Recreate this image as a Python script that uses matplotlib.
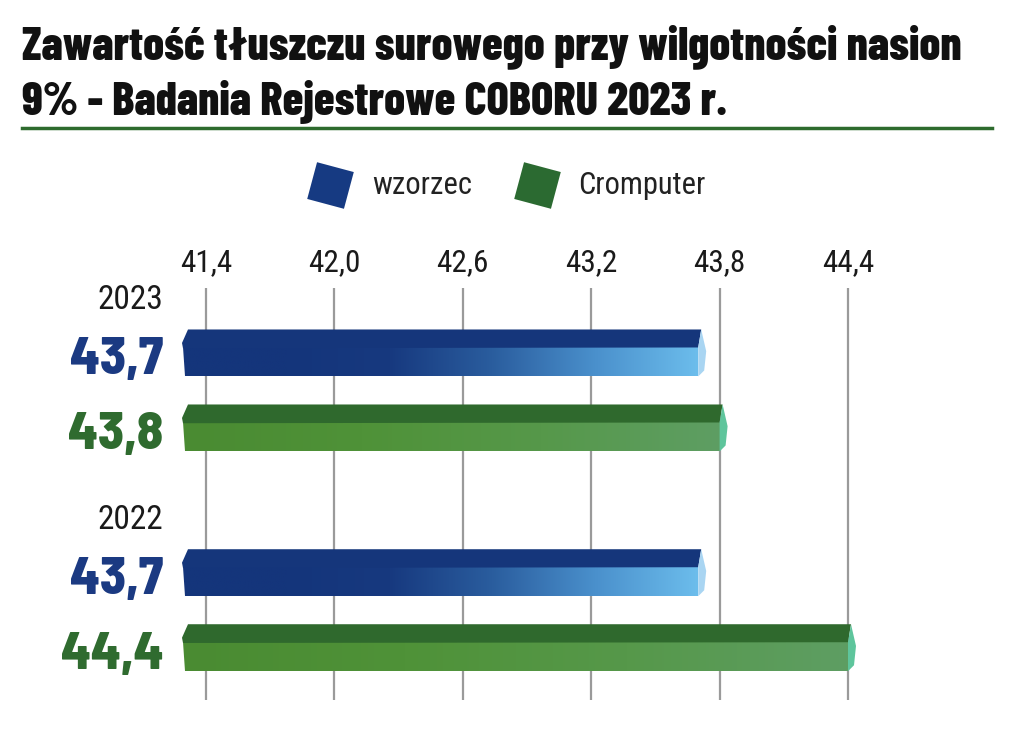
import numpy as np
import matplotlib.pyplot as plt
from matplotlib.patches import Polygon
from matplotlib.colors import LinearSegmentedColormap

# ================= DATA =================
title_lines = ["Zawartość tłuszczu surowego przy wilgotności nasion",
               "9% - Badania Rejestrowe COBORU 2023 r."]
years = ["2023", "2022"]
series = ["wzorzec", "Cromputer"]
wzorzec = [43.7, 43.7]
cromputer = [43.8, 44.4]
ticks = [41.4, 42.0, 42.6, 43.2, 43.8, 44.4]
# ========================================

HEAVY = ["Barlow Condensed", "DejaVu Sans"]
VALUE = ["Barlow Semi Condensed", "DejaVu Sans"]
LIGHT = ["Roboto Condensed", "DejaVu Sans"]
plt.rcParams["font.family"] = LIGHT

BLUE_TXT = "#1b3a82"
GREEN_TXT = "#2f6b2f"
styles = {
    "wzorzec": dict(top="#15367b", cap="#a9d5f2",
                    grad=["#14357b", "#14357b", "#17397f", "#2a5d9e", "#4a90cc", "#6cbdec"],
                    txt=BLUE_TXT, legend="#163a82"),
    "Cromputer": dict(top="#2f692d", cap="#5ec59c",
                      grad=["#4a8b32", "#4f9238", "#56984a", "#5e9e63"],
                      txt=GREEN_TXT, legend="#2b6a31"),
}

fig = plt.figure(figsize=(10.24, 7.36), dpi=100)

# title
for i, line in enumerate(title_lines):
    fig.text(22 / 1024, 1 - (47 + 55 * i) / 736, line, family=HEAVY, fontsize=33.5,
             fontweight=800, va="center", ha="left", color="#111111")
fig.add_artist(plt.Line2D([22 / 1024, 992 / 1024], [1 - 128 / 736] * 2,
                          color="#2e6b2e", lw=2.5))

# legend
leg_ax = fig.add_axes([0, 1 - 220 / 736, 1, 70 / 736])
leg_ax.set_xlim(0, 1024)
leg_ax.set_ylim(220, 150)
leg_ax.axis("off")
for cx, tx, name in [(330, 372, "wzorzec"), (537, 578, "Cromputer")]:
    leg_ax.scatter([cx], [185], marker=(4, 0, 30), s=1500,
                   color=styles[name]["legend"], linewidths=0)
    leg_ax.text(tx, 185, name, fontsize=22, va="center", ha="left", color="#222222")

# main axes (top at px 288, bottom at px 700)
px_per_unit = (848 - 206) / 3.0
ax_top, ax_bot = 288, 700
ax = fig.add_axes([150 / 1024, (736 - ax_bot) / 736, 750 / 1024,
                   (ax_bot - ax_top) / 736])
x_lo = 41.4 - 56 / px_per_unit
x_hi = 44.4 + 52 / px_per_unit
y_hi = (ax_bot - ax_top) / 75.0
y_off = (280 - ax_top) / 75.0
ax.set_xlim(x_lo, x_hi)
ax.set_ylim(y_hi, 0)
for s in ax.spines.values():
    s.set_visible(False)
ax.set_yticks([])
ax.xaxis.tick_top()
ax.set_xticks(ticks)
ax.set_xticklabels([f"{t:.1f}".replace(".", ",") for t in ticks])
ax.tick_params(axis="x", length=0, labelsize=22.5, pad=8, colors="#1a1a1a")
for t in ticks:
    ax.axvline(t, color="#9a9a9a", lw=1.6, zorder=0)

bar_start = 41.4 - 23 / px_per_unit
h_total = 47 / 75.0
h_top = 18 / 75.0
u = 1 / px_per_unit


def draw_bar(yc, value, st):
    y_top = yc - h_total / 2
    y_front = y_top + h_top
    y_bot = yc + h_total / 2
    # front face with gradient
    front = Polygon([(bar_start, y_front), (value, y_front), (value, y_bot),
                     (bar_start + 2 * u, y_bot)],
                    closed=True, facecolor="none", edgecolor="none")
    ax.add_patch(front)
    cmap = LinearSegmentedColormap.from_list("g", st["grad"])
    grad = np.linspace(0, 1, 256).reshape(1, -1)
    im = ax.imshow(grad, cmap=cmap, aspect="auto",
                   extent=(bar_start, value, y_bot, y_front), zorder=2)
    im.set_clip_path(front)
    # top face
    ax.add_patch(Polygon([(bar_start, y_front + 0.01),
                          (bar_start - 1 * u, y_front - 0.06),
                          (bar_start + 5 * u, y_top),
                          (value + 3 * u, y_top),
                          (value, y_front)],
                         closed=True, facecolor=st["top"], edgecolor="none", zorder=3))
    # end cap
    ax.add_patch(Polygon([(value, y_front), (value + 3 * u, y_top),
                          (value + 8 * u, y_front + 0.05),
                          (value + 6 * u, y_bot - 0.08),
                          (value, y_bot)],
                         closed=True, facecolor=st["cap"], edgecolor="none", zorder=3))
    label = f"{value:.1f}".replace(".", ",")
    ax.text(41.4 - 43 * u, y_front + (y_bot - y_front) / 2 - 0.02, label,
            family=VALUE, fontsize=38, fontweight=800, color=st["txt"],
            ha="right", va="center")


for g, year in enumerate(years):
    base = y_off + 0.973 + g * 2.93
    ax.text(41.4 - 43 * u, base - 0.70, year, fontsize=24,
            ha="right", va="center", color="#1a1a1a")
    draw_bar(base, wzorzec[g], styles["wzorzec"])
    draw_bar(base + 1.0, cromputer[g], styles["Cromputer"])

ax.set_xlim(x_lo, x_hi)
ax.set_ylim(y_hi, 0)

fig.savefig("out.png", dpi=100)
